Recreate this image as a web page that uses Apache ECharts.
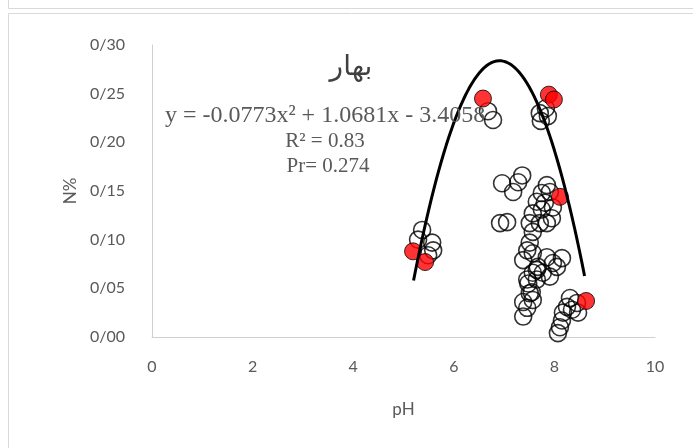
<!DOCTYPE html>
<html>
<head>
<meta charset="utf-8">
<script src="https://cdn.jsdelivr.net/npm/echarts@6/dist/echarts.min.js"></script>
<style>html,body{margin:0;padding:0;background:#fff;}#c{width:693px;height:448px;}</style>
</head>
<body>
<div id="c"></div>
<script>
// ---- data ----
const xTicks = [0, 2, 4, 6, 8, 10];
const yTicks = ['0/00', '0/05', '0/10', '0/15', '0/20', '0/25', '0/30'];

const openPH = [5.37,5.57,5.29,5.59,5.49, 6.68,6.78, 7.71,7.83,7.73,7.87,
  6.96,7.36,7.28,7.18,6.92,7.06,7.85,7.91,7.75,7.65,7.81,7.97,7.75,7.57,7.95,7.51,7.71,7.85,7.57,
  7.51,7.46,7.38,7.57,7.85,8.15,7.97,7.67,7.57,7.77,8.05,7.46,7.65,7.91,7.51,7.65,
  7.38,7.46,7.38,7.57,7.55,7.48,8.31,8.25,8.17,8.15,8.07,8.45,8.47,8.11,8.35];
const openN = [0.110,0.097,0.100,0.089,0.084, 0.232,0.223, 0.230,0.235,0.222,0.227,
  0.158,0.166,0.159,0.149,0.117,0.118,0.156,0.149,0.148,0.139,0.138,0.133,0.131,0.127,0.122,0.117,0.117,0.117,0.108,
  0.097,0.089,0.079,0.086,0.082,0.081,0.076,0.072,0.066,0.066,0.072,0.059,0.059,0.062,0.045,0.069,
  0.021,0.030,0.036,0.038,0.046,0.055,0.040,0.031,0.025,0.017,0.004,0.035,0.025,0.010,0.028];

const redPH = [5.19, 5.43, 6.58, 7.89, 7.99, 8.11, 8.63];
const redN  = [0.088, 0.077, 0.245, 0.249, 0.244, 0.144, 0.037];

// trendline y = a x^2 + b x + c (shown on the chart), drawn over pH range
const trendCoef = [-0.0773, 1.0681, -3.4058];
const trendRange = [5.2, 8.6];

const titleText = 'بهار';
const eqText = 'y = -0.0773x² + 1.0681x - 3.4058';
const r2Text = 'R² = 0.83';
const prText = 'Pr= 0.274';

// ---- build ----
const openData = openPH.map((x, i) => [x, openN[i]]);
const redData = redPH.map((x, i) => [x, redN[i]]);
const trendData = [];
for (let k = 0; k <= 68; k++) {
  const x = trendRange[0] + (trendRange[1] - trendRange[0]) * k / 68;
  trendData.push([x, trendCoef[0] * x * x + trendCoef[1] * x + trendCoef[2]]);
}

const chart = echarts.init(document.getElementById('c'), null, {renderer: 'canvas'});
const lblFont = 'Lato, "Open Sans", sans-serif';
const serif = '"Liberation Serif", serif';
chart.setOption({
  animation: false,
  backgroundColor: '#ffffff',
  grid: {left: 152, right: 38, top: 45, bottom: 111, containLabel: false},
  xAxis: {
    type: 'value', min: 0, max: 10, interval: 2,
    axisLine: {show: true, lineStyle: {color: '#d0d0d0', width: 1}},
    axisTick: {show: false},
    splitLine: {show: false},
    axisLabel: {color: '#595959', fontSize: 16, fontFamily: lblFont, margin: 22,
      formatter: v => String(xTicks[Math.round(v / 2)])},
    name: 'pH', nameLocation: 'middle', nameGap: 64,
    nameTextStyle: {color: '#595959', fontSize: 17, fontFamily: lblFont}
  },
  yAxis: {
    type: 'value', min: 0, max: 0.3, interval: 0.05,
    axisLine: {show: true, lineStyle: {color: '#d0d0d0', width: 1}},
    axisTick: {show: false},
    splitLine: {show: false},
    axisLabel: {color: '#595959', fontSize: 16, fontFamily: lblFont, margin: 27,
      formatter: v => yTicks[Math.round(v / 0.05)]},
    name: 'N%', nameLocation: 'middle', nameGap: 56, nameRotate: 90,
    nameTextStyle: {color: '#595959', fontSize: 17, fontFamily: lblFont}
  },
  series: [
    {type: 'scatter', data: openData, symbol: 'circle', symbolSize: 17, z: 2,
      itemStyle: {color: 'rgba(255,255,255,0)', borderColor: '#000', borderWidth: 1.6}},
    {type: 'scatter', data: redData, symbol: 'circle', symbolSize: 17, z: 3,
      itemStyle: {color: '#ff0000', borderColor: '#000', borderWidth: 1}},
    {type: 'line', data: trendData, showSymbol: false, smooth: false, z: 4,
      lineStyle: {color: '#000', width: 3}}
  ],
  graphic: [
    {type: 'rect', shape: {x: 8.5, y: -10, width: 700, height: 18.5}, style: {fill: 'none', stroke: '#d9d9d9', lineWidth: 1}, silent: true},
    {type: 'rect', shape: {x: 8.5, y: 13.5, width: 700, height: 460}, style: {fill: 'none', stroke: '#d9d9d9', lineWidth: 1}, silent: true},
    {type: 'text', style: {text: titleText, x: 351, y: 68, fill: '#404040', font: '28px "DejaVu Sans", sans-serif', textAlign: 'center', textVerticalAlign: 'middle'}, z: 10},
    {type: 'text', style: {text: eqText, x: 325, y: 116, fill: '#595959', font: '24px ' + serif, textAlign: 'center', textVerticalAlign: 'middle'}, z: 10},
    {type: 'text', style: {text: r2Text, x: 325, y: 141, fill: '#595959', font: '21px ' + serif, textAlign: 'center', textVerticalAlign: 'middle'}, z: 10},
    {type: 'text', style: {text: prText, x: 328, y: 166, fill: '#595959', font: '21px ' + serif, textAlign: 'center', textVerticalAlign: 'middle'}, z: 10}
  ]
});
</script>
</body>
</html>
